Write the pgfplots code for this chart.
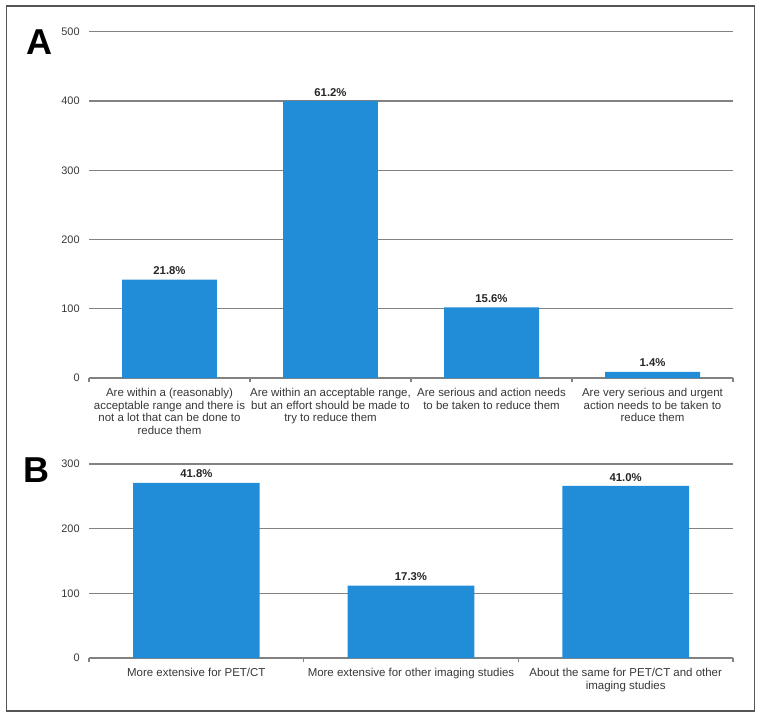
\documentclass[border=0pt]{standalone}
\usepackage{fontspec}
\setmainfont{Liberation Sans}
\usepackage{pgfplots}
\pgfplotsset{compat=1.18}
\definecolor{barblue}{RGB}{33,141,216}
\definecolor{gridgray}{RGB}{130,130,130}
\definecolor{labgray}{RGB}{55,55,55}
\definecolor{framegray}{RGB}{85,85,85}

\pgfplotsset{
  panel/.style={
    scale only axis,
    width=483pt,
    ymin=0,
    ybar, bar width=0.59,
    axis line style={draw=none},
    ymajorgrids, grid style={gridgray, line width=1.1pt},
    major tick length=0pt,
    minor tick length=3pt,
    tick align=outside,
    xtick pos=bottom, ytick pos=left,
    tick style={gridgray, line width=0.8pt},
    minor tick style={gridgray, line width=0.8pt},
    point meta=explicit symbolic,
    nodes near coords,
    nodes near coords style={font=\fontsize{8.5}{9.5}\selectfont\bfseries, text=black!85},
    yticklabel style={font=\fontsize{8.2}{9.5}\selectfont, text=labgray, xshift=-3.5pt},
    xticklabel style={align=center, font=\fontsize{8.6}{9.6}\selectfont, text=labgray, yshift=-4pt},
    /pgf/number format/assume math mode=true,
    clip=false,
  }
}

\begin{document}
\begin{tikzpicture}
\path[use as bounding box] (0,0) rectangle (571.5pt,538.5pt);
\draw[framegray, line width=1.1pt] (4.9pt,5.25pt) rectangle (565.9pt,534pt);

% Panel A
\begin{axis}[panel,
  at={(66.75pt,255pt)}, anchor=south west,
  height=259.7pt,
  ymax=500, ytick={0,100,200,300,400,500},
  xmin=-0.5, xmax=3.5,
  xtick={0,1,2,3},
  minor xtick={-0.5,0.5,1.5,2.5,3.5},
  xticklabels={
    {Are within a (reasonably)\\acceptable range and there is\\not a lot that can be done to\\reduce them},
    {Are within an acceptable range,\\but an effort should be made to\\try to reduce them},
    {Are serious and action needs\\to be taken to reduce them},
    {Are very serious and urgent\\action needs to be taken to\\reduce them}},
]
\addplot[fill=barblue, draw=none] coordinates {
  (0,142) [21.8\%]
  (1,400) [61.2\%]
  (2,102) [15.6\%]
  (3,9)   [1.4\%]
};
\end{axis}

% Panel B
\begin{axis}[panel,
  at={(66.75pt,45pt)}, anchor=south west,
  height=145.5pt,
  ymax=300, ytick={0,100,200,300},
  xmin=-0.5, xmax=2.5,
  xtick={0,1,2},
  minor xtick={-0.5,0.5,1.5,2.5},
  xticklabels={
    {More extensive for PET/CT},
    {More extensive for other imaging studies},
    {About the same for PET/CT and other\\imaging studies}},
]
\addplot[fill=barblue, draw=none] coordinates {
  (0,271) [41.8\%]
  (1,112) [17.3\%]
  (2,266) [41.0\%]
};
\end{axis}

\node[anchor=base west, font=\fontsize{27}{30}\selectfont\bfseries, inner sep=0pt] at (19.8pt,497.3pt) {A};
\node[anchor=base west, font=\fontsize{27}{30}\selectfont\bfseries, inner sep=0pt] at (17.5pt,176.3pt) {B};
\end{tikzpicture}
\end{document}
